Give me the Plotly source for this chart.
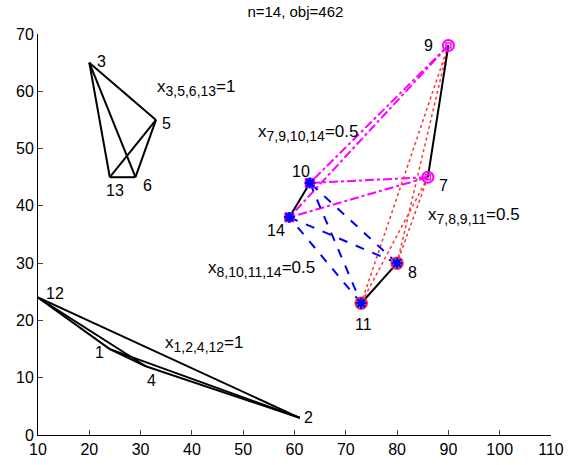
import itertools
import plotly.graph_objects as go

# ---- data ----
node_ids = [1, 2, 3, 4, 5, 6, 7, 8, 9, 10, 11, 12, 13, 14]
node_x = [24, 61, 20, 31, 33, 29, 86, 80, 90, 63, 73, 10, 24, 59]
node_y = [15, 3, 65, 12, 55, 45, 45, 30, 68, 44, 23, 24, 45, 38]

groups = [[3, 5, 6, 13], [1, 2, 4, 12], [7, 9, 10, 14], [7, 8, 9, 11], [8, 10, 11, 14]]
group_values = [1, 1, 0.5, 0.5, 0.5]
group_index = ["3,5,6,13", "1,2,4,12", "7,9,10,14", "7,8,9,11", "8,10,11,14"]
group_value_text = ["1", "1", "0.5", "0.5", "0.5"]
title_text = "n=14, obj=462"
x_ticks = [10, 20, 30, 40, 50, 60, 70, 80, 90, 100, 110]
y_ticks = [0, 10, 20, 30, 40, 50, 60, 70]

# ---- style ----
group_style = [None, None,
               dict(color="#ff00ff", dash="dashdot", width=2),
               dict(color="#ff3333", dash="dot", width=1.5),
               dict(color="#0000ff", dash="dash", width=2)]
label_shift = {1: (-10, -3), 2: (9, 0), 3: (12, 1), 4: (6, -14), 5: (11, -4),
               6: (12, -8), 7: (16, -8), 8: (15, -9), 9: (-20, 0), 10: (-9, 11),
               11: (2, -21), 12: (17, 4), 13: (5, -13), 14: (-13, -13)}
group_anno_pos = [(32.8, 60.6), (34.4, 15.8), (52.5, 52.8), (85.6, 38.2), (42.7, 28.9)]

pos = {n: (x, y) for n, x, y in zip(node_ids, node_x, node_y)}

# edge totals
edge_total = {}
edge_group = {}
for gi, (g, v) in enumerate(zip(groups, group_values)):
    for a, b in itertools.combinations(g, 2):
        key = tuple(sorted((a, b)))
        edge_total[key] = edge_total.get(key, 0) + v
        edge_group.setdefault(key, gi)

fig = go.Figure()

# colored fractional edges
for gi in range(len(groups)):
    if group_style[gi] is None:
        continue
    xs, ys = [], []
    for key, tot in edge_total.items():
        if tot < 1 and edge_group[key] == gi:
            xs += [pos[key[0]][0], pos[key[1]][0], None]
            ys += [pos[key[0]][1], pos[key[1]][1], None]
    fig.add_trace(go.Scatter(x=xs, y=ys, mode="lines", line=group_style[gi],
                             hoverinfo="skip"))

# solid edges
xs, ys = [], []
for key, tot in edge_total.items():
    if tot >= 1:
        xs += [pos[key[0]][0], pos[key[1]][0], None]
        ys += [pos[key[0]][1], pos[key[1]][1], None]
fig.add_trace(go.Scatter(x=xs, y=ys, mode="lines",
                         line=dict(color="black", width=2), hoverinfo="skip"))

# markers for fractional nodes
def nodes_in(gidx):
    s = set(groups[gidx[0]])
    for g in gidx[1:]:
        s &= set(groups[g])
    return sorted(s)

mag_red = nodes_in([2, 3])
mag_blue = nodes_in([2, 4])
red_blue = nodes_in([3, 4])

def add_markers(ns, symbol, color, size, lw, fill=None):
    fig.add_trace(go.Scatter(
        x=[pos[n][0] for n in ns], y=[pos[n][1] for n in ns], mode="markers",
        marker=dict(symbol=symbol, size=size, color=fill if fill else color,
                    line=dict(color=color, width=lw)),
        hoverinfo="skip"))

add_markers(mag_red, "circle-open", "#ff00ff", 11, 2)
add_markers(mag_red, "square-open", "#ff00ff", 5, 1.5)
add_markers(mag_blue, "square", "#ff00ff", 10, 0, fill="#ff00ff")
add_markers(mag_blue, "asterisk-open", "#0000ff", 9, 2.5)
add_markers(red_blue, "circle-open", "#ff3333", 11, 2.5)
add_markers(red_blue, "circle", "#0000ff", 6, 0, fill="#0000ff")
add_markers(red_blue, "asterisk-open", "#0000ff", 9, 2.5)

FAM = "Liberation Sans, Arial, sans-serif"
font_lbl = dict(family=FAM, size=16, color="black")
font_anno = dict(family=FAM, size=17, color="black")
annos = []
for n in node_ids:
    dx, dy = label_shift[n]
    annos.append(dict(x=pos[n][0], y=pos[n][1], text=str(n), showarrow=False,
                      xshift=dx, yshift=dy, font=font_lbl,
                      xanchor="center", yanchor="middle"))
for (ax, ay), gi, gv in zip(group_anno_pos, group_index, group_value_text):
    t = ("x<sub><span style='font-size:14px'>" + gi + "</span></sub>=" + gv)
    annos.append(dict(x=ax, y=ay, text=t, showarrow=False, font=font_anno,
                      xanchor="left", yanchor="middle"))

fig.update_layout(
    width=568, height=465,
    margin=dict(l=38, r=17, t=34, b=30),
    plot_bgcolor="white", paper_bgcolor="white",
    showlegend=False,
    title=dict(text=title_text, x=0.52, xref="container", xanchor="center",
               y=1 - 12 / 465, yref="container", yanchor="middle",
               font=dict(family=FAM, size=15, color="black")),
    annotations=annos,
    xaxis=dict(range=[10, 110], tickvals=x_ticks, ticks="inside", ticklen=5,
               showline=True, linecolor="black", linewidth=1, showgrid=False,
               zeroline=False, tickfont=font_lbl, automargin=False),
    yaxis=dict(range=[0, 70], tickvals=y_ticks, ticks="inside", ticklen=5,
               showline=True, linecolor="black", linewidth=1, showgrid=False,
               zeroline=False, tickfont=font_lbl, automargin=False),
)

fig.write_html("out.html", config={"displayModeBar": False},
               post_script="document.body.style.margin='0';document.body.style.overflow='hidden';")
